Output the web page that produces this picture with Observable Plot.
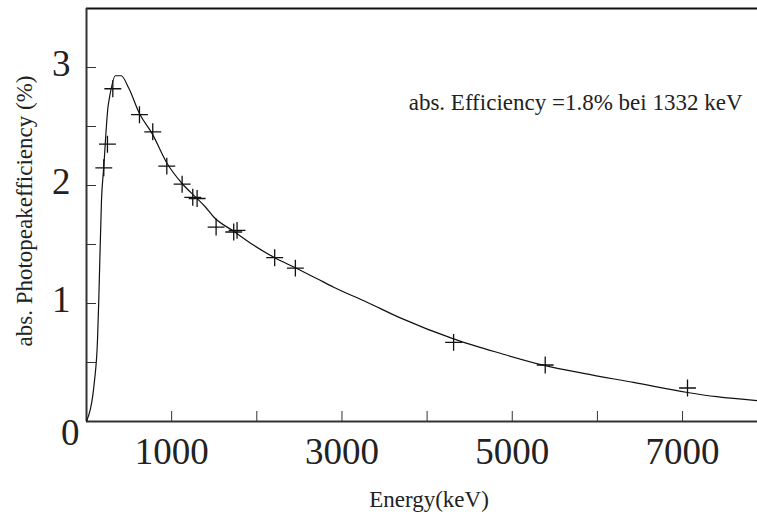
<!DOCTYPE html>
<html>
<head>
<meta charset="utf-8">
<script src="https://cdn.jsdelivr.net/npm/d3@7"></script>
<script src="https://cdn.jsdelivr.net/npm/@observablehq/plot@0.6"></script>
<style>
  html, body { margin: 0; padding: 0; background: #fff; }
  #chart { width: 757px; height: 520px; }
</style>
</head>
<body>
<div id="chart"></div>
<script>
// Measured calibration points (crosses)
const pointEnergy = [203, 246, 309, 622, 778, 943, 1123, 1248, 1299, 1522, 1729, 1768, 2210, 2453, 4311, 5387, 7058];
const pointEff    = [2.15, 2.35, 2.82, 2.60, 2.455, 2.164, 2.011, 1.90, 1.89, 1.648, 1.606, 1.62, 1.388, 1.30, 0.671, 0.479, 0.284];

// Fitted efficiency curve
const curveEnergy = [0, 94, 129, 144, 176, 203, 255, 264, 340, 407, 497, 622, 771, 947, 1123, 1279, 1397, 1494, 1729, 1964, 2210, 2453, 2708, 2903, 3294, 3685, 4311, 4859, 5387, 5837, 6424, 7058, 7402, 7880];
const curveEff    = [0, 0.346, 0.686, 1.025, 1.875, 2.16, 2.68, 2.72, 2.93, 2.93, 2.824, 2.61, 2.44, 2.187, 2.017, 1.903, 1.818, 1.733, 1.612, 1.493, 1.388, 1.303, 1.21, 1.138, 1.011, 0.878, 0.70, 0.578, 0.473, 0.408, 0.331, 0.246, 0.21, 0.176];

// Axes
const xDomain = [0, 7880];
const yDomain = [0, 3.5];
const xTicksAll = [1000, 2000, 3000, 4000, 5000, 6000, 7000];
const xTickLabels = [1000, 3000, 5000, 7000];
const yTicksAll = [0.5, 1, 1.5, 2, 2.5, 3];
const yTickLabels = [1, 2, 3];
const zeroLabel = ["0"];

const xTitle = "Energy(keV)";
const yTitle = "abs. Photopeakefficiency (%)";
const annotation = "abs. Efficiency =1.8% bei 1332 keV";

const points = pointEnergy.map((e, i) => ({energy: e, eff: pointEff[i]}));
const curve = curveEnergy.map((e, i) => ({energy: e, eff: curveEff[i]}));

const ink = "#222";

const chart = Plot.plot({
  width: 757,
  height: 520,
  marginLeft: 86,
  marginRight: 0,
  marginTop: 8,
  marginBottom: 99,
  style: {fontFamily: "Liberation Serif", background: "#fff", color: ink},
  x: {domain: xDomain},
  y: {domain: yDomain},
  marks: [
    // tick marks (inward)
    Plot.axisX({ticks: xTicksAll, tickSize: -10, tickFormat: () => "", label: null, stroke: "#333"}),
    Plot.axisY({ticks: yTicksAll, tickSize: -10, tickFormat: () => "", label: null, stroke: "#333"}),
    // tick labels
    Plot.axisX({ticks: xTickLabels, tickSize: 0, tickPadding: 16, fontSize: 37, label: null, tickFormat: d => String(d)}),
    Plot.axisY({ticks: yTickLabels, tickSize: 0, tickPadding: 16, fontSize: 37, dy: -3, label: null, tickFormat: d => String(d)}),
    Plot.text(zeroLabel, {x: xDomain[0], y: yDomain[0], text: d => d, fontSize: 37, textAnchor: "end", dx: -7, dy: 12, fill: ink}),
    // frame lines
    Plot.ruleY([yDomain[0]], {stroke: "#333", strokeWidth: 2}),
    Plot.ruleY([yDomain[1]], {stroke: "#111", strokeWidth: 2}),
    Plot.ruleX([xDomain[0]], {stroke: "#333", strokeWidth: 2}),
    // curve and data
    Plot.line(curve, {x: "energy", y: "eff", stroke: "#111", strokeWidth: 1.2, curve: "monotone-x"}),
    Plot.dot(points, {x: "energy", y: "eff", symbol: "plus", r: 5.5, stroke: "#111", strokeWidth: 1.3}),
    // titles
    Plot.text([xTitle], {frameAnchor: "bottom", text: d => d, fontSize: 23, dx: 7, dy: 85, fill: ink}),
    Plot.text([yTitle], {frameAnchor: "left", textAnchor: "middle", text: d => d, fontSize: 23, rotate: -90, dx: -62, dy: -4, fill: ink}),
    Plot.text([annotation], {frameAnchor: "top-right", text: d => d, fontSize: 23, textAnchor: "end", dx: -15, dy: 85, fill: ink})
  ]
});
document.getElementById("chart").appendChild(chart);
</script>
</body>
</html>
